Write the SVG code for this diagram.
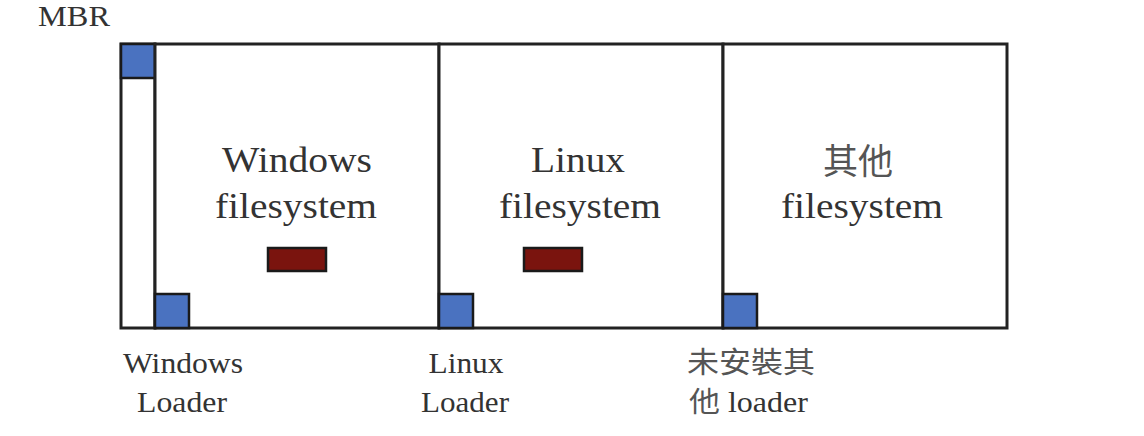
<svg xmlns="http://www.w3.org/2000/svg" width="1144" height="436" viewBox="0 0 1144 436">
<style>
.box{fill:#fff;stroke:#222;stroke-width:3}
.blue{fill:#4a72c0;stroke:#1a1a1a;stroke-width:2.5}
.red{fill:#7a140e;stroke:#1a1a1a;stroke-width:2.5}
.big{font-family:"Liberation Serif","Noto Sans CJK TC",serif;font-size:35px;fill:#333;text-anchor:middle}
.sm{font-family:"Liberation Serif","Noto Sans CJK TC",serif;font-size:29px;fill:#333}
.cjk{font-family:"Noto Sans CJK TC",serif;fill:#555}
</style>
<rect x="0" y="0" width="1144" height="436" fill="#fff"/>
<g id="mbr">
  <rect class="box" x="121" y="44" width="34" height="284"/>
  <rect class="blue" x="121" y="44" width="34" height="34"/>
  <text class="sm" x="38" y="26" font-size="30" textLength="72" lengthAdjust="spacingAndGlyphs">MBR</text>
</g>
<g id="windows">
  <rect class="box" x="155" y="44" width="284" height="284"/>
  <text class="big" x="297" y="172" textLength="150" lengthAdjust="spacingAndGlyphs">Windows</text>
  <text class="big" x="296" y="218" textLength="162" lengthAdjust="spacingAndGlyphs">filesystem</text>
  <rect class="red" x="268" y="248" width="58" height="23"/>
  <rect class="blue" x="155" y="294" width="34" height="34"/>
  <text class="sm" x="183" y="373" text-anchor="middle" textLength="120" lengthAdjust="spacingAndGlyphs">Windows</text>
  <text class="sm" x="182" y="412" text-anchor="middle" textLength="90" lengthAdjust="spacingAndGlyphs">Loader</text>
</g>
<g id="linux">
  <rect class="box" x="439" y="44" width="284" height="284"/>
  <text class="big" x="578" y="172" textLength="94" lengthAdjust="spacingAndGlyphs">Linux</text>
  <text class="big" x="580" y="218" textLength="162" lengthAdjust="spacingAndGlyphs">filesystem</text>
  <rect class="red" x="524" y="248" width="58" height="23"/>
  <rect class="blue" x="439" y="294" width="34" height="34"/>
  <text class="sm" x="466" y="373" text-anchor="middle" textLength="75" lengthAdjust="spacingAndGlyphs">Linux</text>
  <text class="sm" x="465" y="412" text-anchor="middle" textLength="88" lengthAdjust="spacingAndGlyphs">Loader</text>
</g>
<g id="other">
  <rect class="box" x="723" y="44" width="284" height="284"/>
  <text class="big cjk" x="858" y="174" font-size="33">其他</text>
  <text class="big" x="862" y="218" textLength="162" lengthAdjust="spacingAndGlyphs">filesystem</text>
  <rect class="blue" x="723" y="294" width="34" height="34"/>
  <text class="sm cjk" x="687" y="373" font-size="28" textLength="128" lengthAdjust="spacingAndGlyphs">未安裝其</text>
  <text class="sm" x="689" y="412" textLength="119" lengthAdjust="spacingAndGlyphs"><tspan class="cjk" font-size="28">他</tspan> loader</text>
</g>
<g id="connectors"></g>
</svg>
